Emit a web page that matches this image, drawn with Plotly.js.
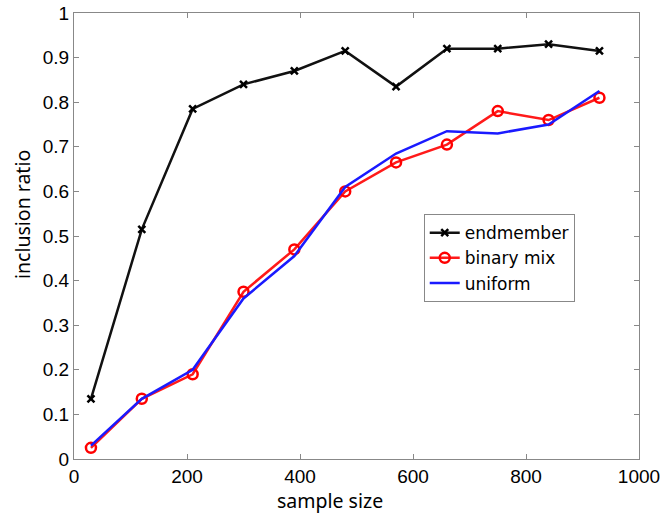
<!DOCTYPE html>
<html>
<head>
<meta charset="utf-8">
<script src="https://cdn.plot.ly/plotly-3.0.1.min.js"></script>
<style>html,body{margin:0;padding:0;background:#fff;}#chart{width:664px;height:513px;}</style>
</head>
<body>
<div id="chart"></div>
<script>
const sampleSize = [30, 120, 210, 300, 390, 480, 570, 660, 750, 840, 930];
const endmember = [0.135, 0.515, 0.785, 0.84, 0.87, 0.915, 0.835, 0.92, 0.92, 0.93, 0.915];
const binaryMix = [0.025, 0.135, 0.19, 0.375, 0.47, 0.60, 0.665, 0.705, 0.78, 0.76, 0.81];
const uniform = [0.03, 0.135, 0.20, 0.36, 0.455, 0.61, 0.685, 0.735, 0.73, 0.75, 0.825];
const seriesNames = ['endmember', 'binary mix', 'uniform'];
const xTitle = 'sample size';
const yTitle = 'inclusion ratio';

const traces = [
  {x: sampleSize, y: endmember, name: seriesNames[0], mode: 'lines+markers',
   line: {color: '#111', width: 2.5}, marker: {symbol: 'x-thin-open', size: 7, color: '#000', line: {width: 2.5, color: '#000'}}},
  {x: sampleSize, y: binaryMix, name: seriesNames[1], mode: 'lines+markers',
   line: {color: '#ff1a1a', width: 2.5}, marker: {symbol: 'circle-open', size: 10, color: '#ff0000', line: {width: 2.5, color: '#ff0000'}}},
  {x: sampleSize, y: uniform, name: seriesNames[2], mode: 'lines',
   line: {color: '#1a1aff', width: 2.5}}
];

const tickFont = {family: 'Liberation Sans, Arial, sans-serif', size: 19, color: '#000'};
const titleFont = {family: 'Noto Sans, sans-serif', size: 19.5, color: '#000'};
const layout = {
  width: 664, height: 513,
  margin: {l: 74, r: 25, t: 13, b: 54},
  paper_bgcolor: '#fff', plot_bgcolor: '#fff',
  font: tickFont,
  showlegend: true,
  legend: {x: 0.619, y: 0.549, xanchor: 'left', yanchor: 'top', bgcolor: '#fff',
           bordercolor: '#888', borderwidth: 1, font: {family: 'DejaVu Sans, sans-serif', size: 17, color: '#000'}, tracegroupgap: 0},
  xaxis: {range: [0, 1000], dtick: 200, tick0: 0, ticks: 'inside', ticklen: 5, tickcolor: '#888',
          showline: true, linecolor: '#888', linewidth: 1, mirror: 'ticks', showgrid: false, zeroline: false,
          tickfont: tickFont},
  yaxis: {range: [0, 1], dtick: 0.1, tick0: 0, ticks: 'inside', ticklen: 5, tickcolor: '#888',
          showline: true, linecolor: '#888', linewidth: 1, mirror: 'ticks', showgrid: false, zeroline: false,
          tickfont: tickFont},
  annotations: [
    {text: xTitle, xref: 'paper', yref: 'paper', x: 0.453, y: -0.093, xanchor: 'center', yanchor: 'middle',
     showarrow: false, font: titleFont},
    {text: yTitle, xref: 'paper', yref: 'paper', x: -0.092, y: 0.547, xanchor: 'center', yanchor: 'middle',
     textangle: -90, showarrow: false, font: titleFont}
  ]
};
Plotly.newPlot('chart', traces, layout, {displayModeBar: false, staticPlot: true});
</script>
</body>
</html>
